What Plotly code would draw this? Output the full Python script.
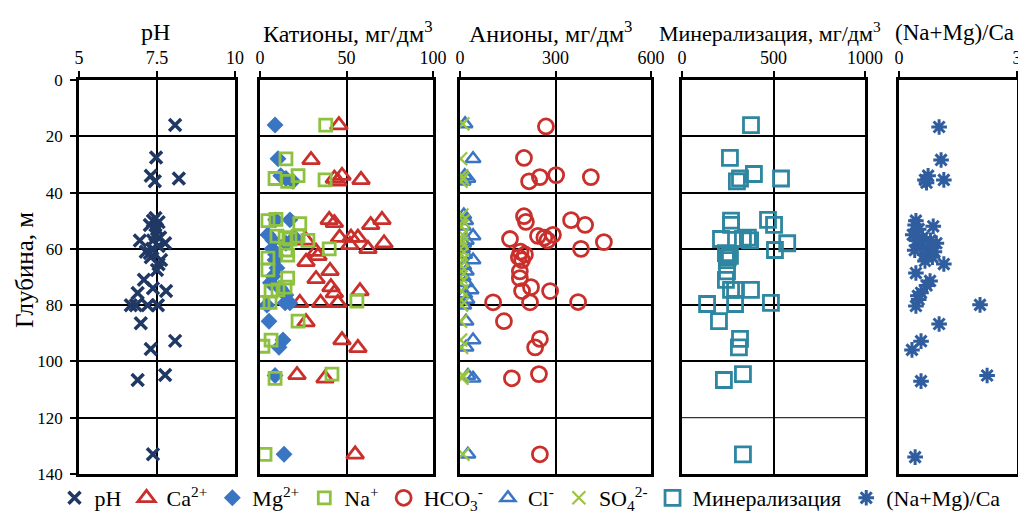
import plotly.graph_objects as go

# ---------------- data ----------------
ph_depth = [16, 27.5, 34, 35, 36, 49, 50, 50.5, 51.5, 53, 55, 56, 57, 57, 58, 59, 60, 61, 61.5,
            63, 64, 65.5, 67.5, 71, 74, 75, 75.7, 80, 80, 80, 80, 86.4, 92.7, 95.6, 104.8, 106.6, 133]
ph_values = [8.08, 7.47, 7.3, 8.2, 7.43, 7.45, 7.37, 7.55, 7.27, 7.5, 7.45, 7.6, 6.95, 7.37, 7.76,
             7.55, 7.35, 7.14, 7.27, 7.3, 7.63, 7.55, 7.5, 7.08, 7.37, 7.79, 6.88, 6.66, 6.82, 7.2,
             7.53, 6.98, 8.08, 7.3, 7.76, 6.88, 7.37]

ca_depth = [16, 28.4, 34, 35, 35.5, 36, 49.7, 50.8, 51.5, 49.7, 56, 56, 56, 57, 58.6, 60, 58,
            61, 62.5, 64.6, 67.8, 70.7, 73.6, 75.7, 75, 79.2, 79.2, 79.2, 86, 92.4, 95.2, 104.8,
            106, 133]
ca_values = [45.6, 29.5, 47.4, 43, 58.4, 45, 40, 43, 64, 70.5, 46, 52.6, 56.6, 26.6, 52, 62.4,
             71.7, 32.4, 33.5, 26.6, 40.5, 32.4, 41, 43, 57.8, 23, 35, 45, 26.6, 47.4, 56.6,
             21.4, 37.6, 55]

mg_depth = [16, 28, 34, 36, 35, 49.7, 49.7, 55, 57, 58, 56, 60, 62, 64, 66.8, 69.7, 72, 74,
            76.4, 79.2, 79.2, 80, 85.7, 92.4, 95, 105, 133]
mg_values = [8.7, 10.4, 12, 19, 15, 9, 17.3, 4.6, 7.5, 15, 20, 7, 9, 8.7, 9.8, 7.5, 6, 11.6,
             15, 14.5, 17.3, 4, 5.2, 13.3, 11, 8.7, 13.9]

na_depth = [16, 28, 34, 35, 36, 35.5, 49.5, 50, 51, 55.5, 56, 56.5, 55.5, 57, 60, 60.4, 62.2,
            63.3, 67.5, 70.4, 75, 74.6, 73.6, 79, 79, 78.6, 85.7, 92.4, 94.6, 104.5, 106, 133]
na_values = [38, 15, 22, 8.7, 16, 37.6, 9.2, 4.6, 23, 9.8, 14.5, 17.3, 22, 27.7, 40, 15, 16,
             4.6, 4.6, 16, 6.4, 10.4, 14.5, 1.7, 5.8, 56, 22, 6.4, 1.7, 41.6, 8.7, 2.9]

hco3_depth = [16.5, 27.7, 33.8, 34.5, 34.5, 36, 48.4, 50.4, 49.8, 51.5, 56.5, 55.4, 56, 57, 55,
              57.6, 60, 61, 62, 63, 64, 68, 70.4, 73.6, 75, 75, 79, 79, 78.9, 85.7, 92, 95,
              104.5, 106, 133]
hco3_values = [270, 201, 302, 251, 411, 217, 201, 207, 349, 393, 157, 245, 265, 275, 292, 452,
               380, 190, 204, 185, 195, 188, 188, 223, 195, 283, 104, 220, 371, 138, 251, 236,
               248, 163, 251]

cl_depth = [15.6, 28, 34, 35, 36, 48, 50, 52, 55.4, 57, 58, 60, 62, 64, 66, 68, 70, 72, 74.6,
            76, 78, 80, 85.7, 92.4, 95, 105, 106, 133]
cl_values = [16, 41, 15, 25, 10, 12, 18, 10, 41, 20, 12, 8, 15, 41, 12, 20, 10, 18, 35, 15, 22,
             12, 19, 41, 19, 25, 41, 25]

so4_depth = [15.6, 28, 34, 35, 36, 48, 50, 52, 55, 57, 58, 60, 62, 64, 66, 68, 70, 72, 75, 78,
             80, 85.7, 92.4, 95, 105, 106, 133]
so4_values = [9, 2, 5, 8, 3, 6, 10, 4, 8, 3, 6, 2, 5, 8, 3, 5, 2, 4, 6, 3, 5, 2, 2, 5, 9, 6, 9]

min_depth = [16, 27.7, 33.4, 35, 36, 35, 50, 51.5, 49.7, 51.5, 56.5, 56.5, 56, 57, 58, 60.4,
             61.5, 62.5, 63, 64, 68, 71, 74.6, 74.6, 74.6, 79.6, 79.6, 79.2, 85.7, 92, 95,
             106.6, 104.5, 133]
min_values = [377, 262, 393, 317, 300, 541, 268, 268, 470, 503, 213, 333, 360, 372, 575, 508,
              240, 262, 250, 245, 246, 240, 268, 290, 377, 137, 290, 486, 202, 317, 311, 229,
              333, 333]

ratio_depth = [16.7, 28.4, 35.5, 35.5, 34, 36.5, 50, 51.5, 52, 53, 55, 56, 57, 57, 58, 59, 60,
               60.5, 61, 62, 63, 64.3, 65.4, 68.6, 71.4, 73, 75.6, 76.7, 78, 80.3, 79.9, 86.7,
               92.8, 95.9, 105, 107, 134]
ratio_values = [1.02, 1.07, 1.14, 0.66, 0.74, 0.7, 0.43, 0.41, 0.87, 0.5, 0.35, 0.6, 0.8, 0.45,
                0.95, 0.55, 0.75, 0.4, 0.9, 0.65, 0.85, 0.66, 1.14, 0.43, 0.79, 0.7, 0.56, 0.48,
                0.5, 0.43, 2.06, 1.02, 0.56, 0.33, 2.24, 0.56, 0.41]

panel_titles = ["pH", "Катионы, мг/дм<sup>3</sup>", "Анионы, мг/дм<sup>3</sup>",
                "Минерализация, мг/дм<sup>3</sup>", "(Na+Mg)/Ca"]
x_ranges = [[5, 10], [0, 100], [0, 600], [0, 1000], [0, 3]]
x_ticks = [[5, 7.5, 10], [0, 50, 100], [0, 300, 600], [0, 500, 1000], [0, 3]]
depth_ticks = [0, 20, 40, 60, 80, 100, 120, 140]

# ---------------- layout geometry ----------------
W, H = 1026, 515
FONT = '"Liberation Serif", "Times New Roman", serif'
panels_px = [(71, 227), (252, 425), (452, 643), (674, 857), (891, 1009)]
title_sizes = [24, 24, 24, 22, 23]
title_x_px = [147, 340, 542, 762, 946]
ydom = [1 - 466 / H, 1 - 72 / H]

fig = go.Figure()


def add(name, x, y, k, symbol, color, size, lw, filled=False):
    suffix = "" if k == 1 else str(k)
    if filled:
        marker = dict(symbol=symbol, color=color, size=size, line=dict(width=0))
    else:
        marker = dict(symbol=symbol, color=color, size=size, line=dict(color=color, width=lw))
    fig.add_trace(go.Scatter(x=x, y=y, mode="markers", name=name, marker=marker,
                             xaxis="x" + suffix, yaxis="y" + suffix))


add("pH", ph_values, ph_depth, 1, "x-thin", "#1F3864", 12, 3.5)
add("Ca<sup>2+</sup>", ca_values, ca_depth, 2, "triangle-up-open", "#C9302C", 15, 2.8)
add("Mg<sup>2+</sup>", mg_values, mg_depth, 2, "diamond", "#3A75C4", 13, 0, filled=True)
add("Na<sup>+</sup>", na_values, na_depth, 2, "square-open", "#8DC13F", 12, 2.8)
add("HCO<sub>3</sub><sup>-</sup>", hco3_values, hco3_depth, 3, "circle-open", "#C9302C", 15, 2.8)
add("Cl<sup>-</sup>", cl_values, cl_depth, 3, "triangle-up-open", "#3A75C4", 13, 2.5)
add("SO<sub>4</sub><sup>2-</sup>", so4_values, so4_depth, 3, "x-thin", "#9BC53D", 13, 2.2)
add("Минерализация", min_values, min_depth, 4, "square-open", "#2E86A0", 15, 2.8)
add("(Na+Mg)/Ca", ratio_values, ratio_depth, 5, "asterisk-open", "#2F5D9E", 13, 3)

layout = dict(
    width=W, height=H,
    margin=dict(l=0, r=0, t=0, b=0),
    paper_bgcolor="white", plot_bgcolor="white",
    font=dict(family=FONT, size=17, color="black"),
    showlegend=True,
    legend=dict(orientation="h", x=522 / W, xanchor="center", y=1 - 490 / H, yanchor="middle",
                font=dict(family=FONT, size=22, color="black"), itemwidth=30,
                tracegroupgap=0, bgcolor="rgba(0,0,0,0)"),
)

annotations = []
for i, ((p0, p1), title, xr, xt) in enumerate(zip(panels_px, panel_titles, x_ranges, x_ticks)):
    k = i + 1
    suffix = "" if k == 1 else str(k)
    layout["xaxis" + suffix] = dict(
        domain=[p0 / W, p1 / W], range=xr, side="top", anchor="y" + suffix,
        tickvals=xt, ticktext=[str(v) for v in xt], ticks="outside", ticklen=6, tickwidth=2,
        tickcolor="black", showline=True, mirror=True, linecolor="black", linewidth=2.5,
        showgrid=(k != 5), gridcolor="black", gridwidth=2, zeroline=False,
        tickfont=dict(family=FONT, size=18, color="black"), ticklabelstandoff=0,
        automargin=False, fixedrange=True,
    )
    if k == 5:
        gridvals = []
    elif k == 4:
        gridvals = [v for v in depth_ticks if v != 120]
    else:
        gridvals = depth_ticks
    ya = dict(
        domain=ydom, range=[140, 0], anchor="x" + suffix, tickvals=gridvals if k != 1 else depth_ticks,
        showticklabels=(k == 1), ticks="outside" if k == 1 else "", ticklen=6, tickwidth=2,
        tickcolor="black", showgrid=(k != 5), gridcolor="black", gridwidth=2, zeroline=False,
        showline=True, mirror=True, linecolor="black", linewidth=2.5,
        tickfont=dict(family=FONT, size=17, color="black"), ticklabelstandoff=4,
        automargin=False, fixedrange=True,
    )
    if k != 1:
        ya["matches"] = "y"
    layout["yaxis" + suffix] = ya
    annotations.append(dict(text=title, xref="paper", yref="paper", x=title_x_px[i] / W,
                            y=1 - 24 / H, xanchor="center", yanchor="middle", showarrow=False,
                            font=dict(family=FONT, size=title_sizes[i], color="black")))

annotations.append(dict(text="Глубина, м", xref="paper", yref="paper", x=16 / W,
                        y=1 - 262 / H, textangle=-90, xanchor="center", yanchor="middle",
                        showarrow=False, font=dict(family=FONT, size=25, color="black")))
layout["annotations"] = annotations
layout["shapes"] = [dict(type="line", xref="x4 domain", yref="y4", x0=0, x1=1, y0=120, y1=120,
                         line=dict(color="black", width=1), layer="below")]

fig.update_layout(**layout)
fig.write_html("out.html")
